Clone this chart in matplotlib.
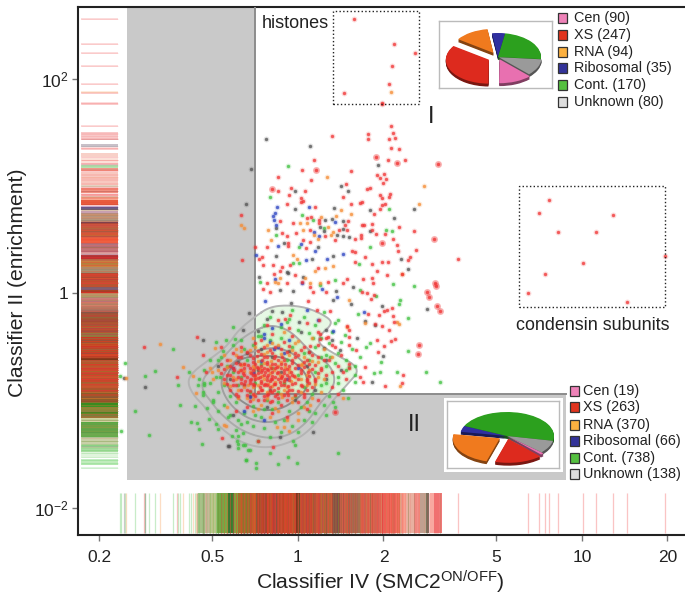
import matplotlib
matplotlib.use('Agg')
import matplotlib.pyplot as plt
from matplotlib.patches import Rectangle
import numpy as np

plt.rcParams.update({
    'font.family': ['Liberation Sans', 'DejaVu Sans'],
    'mathtext.default': 'regular',
    'font.size': 12.5,
    'axes.spines.right': False,
})

# all points as (log10 classifier IV, log10 classifier II)
red_pts = [
    (.297, 1.77), (.326, 1.56), (.334, 1.49), (.248, 1.48), (.121, 1.46), (.246, 1.44), (.321, 1.44), (.342, 1.45),
    (.328, 1.35), (.355, 1.34), (.317, 1.24), (.378, 1.24), (.058, 1.24), (.013, 1.15), (.188, 1.14), (.302, 1.11),
    (.277, 1.10), (-.070, 1.08), (.288, 1.07), (.309, 1.06), (.046, 1.05), (.299, 1.03), (.168, 1.02), (-.071, .95),
    (-.024, .98), (.024, .95), (.243, .97), (.252, .98), (-.030, .91), (.160, .90), (.289, .91), (.297, .89),
    (.323, .92), (.321, .90), (.010, .89), (.012, .85), (.019, .86), (.218, .84), (.226, .85), (-.037, .83),
    (.185, .83), (.295, .82), (.307, .83), (.061, .80), (.267, .74), (.288, .78), (-.201, .73), (-.063, .67),
    (.030, .70), (.045, .71), (.074, .68), (-.016, .65), (.176, .67), (.262, .64), (.226, .63), (.234, .63),
    (.073, .65), (.165, .63), (.356, .62), (.043, .59), (-.058, .56), (-.007, .56), (.096, .53), (.145, .59),
    (.172, .59), (.260, .59), (.273, .55), (.308, .55), (.410, .58), (-.037, .53), (.201, .50), (.221, .54),
    (.223, .51), (.132, .49), (.334, .50), (.348, .45), (.019, .49), (-.036, .47), (-.108, .43), (-.150, .43),
    (-.035, .44), (.029, .42), (.044, .48),
    (-.198, .31), (-.122, .26), (-.089, .26), (-.057, .245), (-.028, .26), (-.127, .34), (-.139, .32), (-.086, .18),
    (-.110, .09), (-.098, .01), (-.122, .04), (-.063, .21), (-.040, .09), (-.010, .17), (.013, .10), (.043, .06),
    (.054, .01), (.037, -.07), (.072, .23), (.107, .10), (.160, .09), (.172, .13), (.099, .01), (.111, -.17),
    (.201, .385), (.189, .395), (.201, .29), (.236, .34), (.260, .27), (.260, .14), (.263, .096), (.228, .13),
    (.277, .21), (.297, .29), (.316, .29), (.351, .394), (.395, .34), (.387, .31), (.366, .18), (.313, .17),
    (.414, .40), (.565, .32), (.256, -.06), (.242, -.003), (.225, .012), (.266, -.02), (.303, -.165), (.313, -.16),
    (.330, -.137), (.287, -.205), (.336, -.215), (.338, -.27), (.245, -.196), (.272, -.29), (.295, -.31), (.321, -.34),
    (.342, -.43), (.327, -.445), (.277, -.44), (.303, -.494), (.283, -.547), (.205, -.53), (.178, -.485), (.172, -.31),
    (.178, -.345), (.178, -.41), (.078, -.38), (.076, -.43), (.107, -.41), (.119, -.485), (.236, -.69), (.370, -.765),
    (.230, -.83), (.307, -.865), (.366, -.84), (.074, -.25), (.068, -.16), (.043, -.49), (-.028, -.205), (-.045, -.24),
    (-.541, -.507), (-.355, -.413), (-.334, -.578), (-.426, -.786), (-.269, -1.349), (-.325, -.733), (-.272, -.507),
    (-.087, -1.433), (-.140, -1.377),
    (.13, -.50), (.10, -.42), (.07, -.36), (.03, -.28), (.11, -.62), (.15, -.58), (.18, -.66), (.12, -.74), (.17, -.80),
    (.14, -.94), (.18, -.70), (.07, -.48), (.22, -.78),
    # histones box
    (.197, 2.555), (.337, 2.32), (.412, 2.24), (.331, 2.117), (.322, 1.946), (.162, 1.865), (.297, 1.765),
    # condensin box
    (.884, .87), (.85, .743), (.917, .572), (1.108, .727), (1.049, .572), (1.291, .348), (1.004, .277),
    (.869, .175), (.811, .003), (1.157, -.087),
]
red_big_pts = [
    (.274, 1.27), (.348, 1.21), (.492, 1.20), (.065, 1.15), (-.090, .97), (.479, .50), (.296, .47), (.130, -1.107),
    (.483, .09), (.485, .065), (.453, .006), (.462, -.04), (.491, -.12), (.500, -.17), (.427, -.485), (.424, -.57),
]
red_core = [
    (-.11, -.78), (-.09, -.74), (-.13, -.82), (-.07, -.80), (-.15, -.76), (-.12, -.70), (-.05, -.72), (-.17, -.84),
    (-.10, -.88), (-.06, -.86), (-.14, -.92), (-.08, -.66), (-.19, -.70), (-.03, -.78), (-.16, -.64), (-.11, -.60),
    (-.21, -.78), (-.01, -.84), (-.04, -.92), (-.18, -.90), (-.12, -.96), (-.07, -.98), (-.23, -.86), (.01, -.72),
    (-.24, -.68), (-.02, -.62), (-.09, -.56), (-.14, -.54), (-.20, -.60), (.03, -.80), (-.13, -.74), (-.10, -.82),
    (-.08, -.78), (-.06, -.70), (-.12, -.86), (-.15, -.80), (-.16, -.72), (-.09, -.92), (-.05, -.82), (-.03, -.68),
    (-.18, -.78), (-.20, -.84), (-.11, -.66), (-.07, -.62), (-.13, -.68), (-.04, -.76), (-.02, -.90), (-.16, -.94),
    (-.10, -1.02), (-.06, -1.04), (-.14, -1.00), (.05, -.88), (.02, -.94), (-.22, -.94), (-.25, -.76), (.04, -.66),
    (-.01, -.56), (-.06, -.52), (-.12, -.50), (-.17, -.58), (-.13, -.44), (-.09, -.38), (-.05, -.46), (-.02, -.40),
    (-.11, -.30), (-.07, -.25), (-.03, -.33), (.02, -.50), (.05, -.58), (.08, -.70), (.10, -.76), (.06, -.82),
    (.12, -.88), (.09, -.62), (.14, -.68), (.16, -.74), (.07, -1.0), (.03, -1.08), (-.04, -1.16), (-.09, -1.12),
    (-.18, -1.06), (-.22, -1.10), (-.105, -.765), (-.125, -.72), (-.095, -.70), (-.145, -.685), (-.075, -.75),
    (-.065, -.83), (-.115, -.845), (-.135, -.78), (-.165, -.80), (-.085, -.85), (-.045, -.66), (-.025, -.735),
    (-.175, -.675), (-.195, -.745), (-.155, -.86), (-.105, -.94), (-.035, -.87), (-.015, -.77), (.0, -.67),
    (-.055, -.60), (-.125, -.62), (-.225, -.72), (-.085, -.61), (-.145, -.59), (.015, -.87), (-.205, -.66),
    (-.095, -.80), (-.115, -.74), (-.075, -.69), (-.055, -.77), (-.135, -.88), (-.105, -.72), (-.165, -.75),
    (-.045, -.80), (-.085, -.90), (-.125, -.90), (-.185, -.82), (-.035, -.95), (-.075, -.94), (.035, -.74),
    (-.20, -.50), (-.15, -.47), (-.08, -.50), (-.03, -.49), (.01, -.53), (-.23, -.56), (-.18, -.55), (-.13, -.57),
    (-.10, -.53), (-.04, -.55), (.0, -.58), (.04, -.55), (-.25, -.62), (-.21, -.60), (-.16, -.61), (-.12, -.60),
    (-.08, -.59), (-.05, -.62), (-.01, -.60), (.03, -.62), (.07, -.60), (-.27, -.66), (-.22, -.65), (-.19, -.66),
    (-.15, -.66), (-.11, -.64), (-.09, -.66), (-.06, -.66), (-.02, -.65), (.02, -.64), (.06, -.67), (-.26, -.71),
    (-.23, -.70), (-.20, -.72), (-.17, -.70), (-.14, -.70), (-.11, -.71), (-.08, -.70), (-.04, -.71), (-.01, -.70),
    (.02, -.69), (.05, -.71), (.08, -.72), (-.27, -.75), (-.24, -.76), (-.21, -.74), (-.19, -.76), (-.16, -.76),
    (-.14, -.75), (-.12, -.76), (-.09, -.77), (-.07, -.74), (-.05, -.75), (-.02, -.76), (.01, -.75), (.04, -.77),
    (.07, -.75), (-.26, -.80), (-.23, -.81), (-.20, -.80), (-.17, -.81), (-.14, -.79), (-.11, -.81), (-.09, -.80),
    (-.06, -.79), (-.03, -.81), (.0, -.80), (.03, -.82), (.06, -.80), (-.25, -.85), (-.22, -.86), (-.19, -.85),
    (-.16, -.85), (-.13, -.84), (-.11, -.86), (-.08, -.85), (-.05, -.86), (-.02, -.85), (.01, -.86), (.04, -.84),
    (-.24, -.90), (-.20, -.90), (-.17, -.91), (-.13, -.90), (-.10, -.91), (-.07, -.89), (-.03, -.90), (.0, -.91),
    (.03, -.90), (-.21, -.96), (-.18, -.95), (-.15, -.96), (-.11, -.95), (-.08, -.96), (-.05, -.95), (-.01, -.95),
    (.02, -.97), (-.17, -1.01), (-.12, -1.0), (-.09, -1.01), (-.04, -1.0), (.0, -1.02),
]
orange_pts = [
    (.101, 1.08), (.445, 1.0), (.427, .83), (.152, .77), (.185, .74), (-.200, .63), (-.191, .61), (-.105, .59),
    (.080, .71), (.134, .72), (.030, .65), (.006, .65), (.018, .59), (-.095, .49), (.057, .54), (.072, .50),
    (.115, .54), (.125, .57), (.104, .62), (-.069, .09), (-.081, .105), (-.063, .14), (-.004, .32), (-.016, .354),
    (.060, .21), (.096, .23), (.125, .25), (.043, .09), (.181, -.065), (.348, -.27), (.357, -.29), (.236, -.28),
    (.366, .18), (.172, -.32), (.360, -.87), (.078, .09), (.025, .14), (.327, 1.87),
    (-.486, -.476), (-.604, -.796), (-.404, -.687), (-.369, -.774), (-.359, -.929), (-.292, -.516), (-.304, -.733),
    (-.251, -1.06), (-.261, -1.23), (-.254, -1.237), (.159, -.982), (.042, -1.044), (.02, -1.06), (.0, -1.184),
    (-.04, -1.184), (-.05, -1.245), (-.03, -1.29), (-.075, -1.245),
]
orange_core = [
    (-.19, -.66), (-.14, -.63), (-.10, -.68), (-.06, -.64), (-.22, -.80), (-.17, -.74), (-.12, -.80), (-.08, -.83),
    (-.03, -.74), (.01, -.80), (-.21, -.90), (-.16, -.88), (-.11, -.92), (-.05, -.90), (.03, -.86), (-.24, -.62),
    (-.20, -.54), (-.15, -.50), (-.07, -.48), (-.03, -.58), (.04, -.72), (.07, -.78), (-.26, -.84), (-.28, -.72),
    (-.18, -.98), (-.13, -1.04), (-.08, -1.07), (-.02, -1.02), (.05, -.98), (-.16, -1.10), (-.10, -1.16), (.0, -1.12),
    (-.12, -.57), (-.09, -.47), (-.16, -.42), (-.05, -.36), (.0, -.45), (.05, -.42), (.09, -.52), (.12, -.60),
    (-.135, -.71), (-.105, -.85), (-.065, -.76), (-.045, -.69), (-.155, -.70), (-.085, -.72), (-.175, -.86),
    (-.125, -.77), (-.025, -.82), (-.205, -.72), (-.155, -.95), (-.055, -.97), (.015, -.66), (-.095, -.63),
    (-.22, -.58), (-.17, -.53), (-.11, -.55), (-.06, -.57), (-.02, -.53), (.02, -.60), (-.25, -.69), (-.20, -.67),
    (-.16, -.68), (-.12, -.65), (-.07, -.68), (-.03, -.71), (.01, -.67), (.05, -.63), (-.23, -.78), (-.19, -.73),
    (-.15, -.78), (-.10, -.75), (-.06, -.78), (-.01, -.78), (.03, -.76), (.06, -.85), (-.24, -.87), (-.19, -.88),
    (-.14, -.86), (-.09, -.87), (-.04, -.88), (.01, -.92), (-.21, -.98), (-.16, -.99), (-.11, -.98), (-.06, -.94),
    (-.02, -.98), (-.14, -1.08), (-.07, -1.10), (-.26, -.58), (-.22, -.52), (-.11, -.48), (-.01, -.47), (.07, -.64),
    (.09, -.80), (.08, -.92), (-.3, -.80), (-.31, -.70),
]
green_pts = [
    (-.035, 1.18), (-.098, .90), (.013, .73), (.052, .68), (.092, .61), (.319, .78), (.310, .59), (.331, .58),
    (-.077, .54), (.254, .43), (.005, .43), (.216, .27), (.002, .28), (-.018, .28), (-.133, .10), (.131, .12),
    (.333, .084), (.409, .068), (.360, -.065), (.354, -.10), (.213, -.196), (.387, -.236), (.274, -.028), (.142, -.25),
    (.164, -.39), (.254, -.47), (.240, -.507), (.387, -.54), (.293, -.647), (.289, -.734), (.266, -.743), (.348, -.734),
    (.450, -.734), (.500, -.827), (-.230, -.32), (.219, .028), (.078, .075), (-.040, -.27), (.054, -.42), (.178, -.687),
    (.201, -.765),  (.113, -.594),
    (-.609, -.65), (-.439, -.522), (-.505, -.724), (-.537, -.774), (-.627, -.774), (-.424, -.861), (-.383, -.74),
    (-.348, -.805), (-.330, -.718), (-.351, -.858), (-.330, -.842), (-.334, -.92), (-.336, -.951), (-.310, -.842),
    (-.416, -1.041), (-.361, -1.054), (-.574, -1.103), (-.322, -1.075), (-.312, -1.178), (-.375, -1.206),
    (-.355, -1.215), (-.350, -1.271), (-.623, -1.284), (-.525, -1.324), (-.339, -1.405), (-.287, -1.22), (-.283, -1.271),
    (-.234, -1.333), (-.210, -1.333), (-.214, -1.377), (-.187, -1.417), (-.210, -1.448), (-.175, -1.464), (-.183, -1.557),
    (-.298, -.998), (-.275, -.78), (-.287, -.454), (-.254, -.438), (-.222, -.432), (-.281, -.625), (-.263, -.538),
    (-.193, -1.308), (-.246, -1.159), (-.199, -1.222), (-.099, -1.495), (-.034, -1.526), (-.005, -1.588), (-.070, -1.594),
    (-.148, -1.588), (-.148, -1.635), (-.183, -1.557), (.142, -1.495), (-.169, -1.464), (-.193, -1.417), (-.210, -1.408),
    (-.011, -1.417), (-.017, -1.377), (.177, -.982), (.124, -1.02),
    (-.14, -.40), (-.12, -.30), (-.10, -.22), (-.06, -.32), (-.03, -.24), (.0, -.34), (.04, -.37), (.08, -.42),
    (.11, -.47), (.14, -.56), (.17, -.72), (.14, -.78), (.10, -.84), (.16, -.90), (.20, -.83), (.13, -.65), (.10, -.58),
]
green_core = [
    (-.27, -.60), (-.25, -.68), (-.29, -.78), (-.26, -.86), (-.28, -.92), (-.24, -.96), (-.22, -1.02), (-.19, -.52),
    (-.23, -.48), (-.20, -.44), (-.16, -.48), (-.13, -.40), (-.10, -.44), (-.06, -.42), (-.02, -.50), (.02, -.56),
    (.06, -.50), (.08, -.60), (.10, -.68), (.06, -.74), (.08, -.86), (.05, -.94), (.03, -1.02), (.01, -1.06),
    (-.03, -1.10), (-.07, -1.02), (-.12, -1.08), (-.15, -1.14), (-.19, -1.12), (-.24, -1.14), (-.26, -1.04),
    (-.08, -1.20), (-.12, -1.26), (-.02, -1.24), (.02, -1.18), (.06, -1.12), (-.16, -1.24), (-.06, -1.30),
    (-.10, -1.34), (-.14, -1.38), (.09, -1.04), (.11, -.96), (.14, -.84), (.17, -.62), (.19, -.52), (.15, -.46),
    (.12, -.36), (.06, -.30), (.02, -.22), (-.02, -.16), (.09, -.18), (.13, -.28), (.20, -.68), (.22, -.60),
    (-.20, -.78), (-.17, -.92), (-.13, -.66), (-.05, -.84), (-.09, -.70), (-.15, -.84), (-.23, -.74), (-.18, -.62),
    (-.04, -.62), (.0, -.76), (-.11, -1.0), (-.21, -.86), (-.07, -.92), (.02, -.88), (-.01, -.96), (.04, -.62),
    (-.31, -.62), (-.33, -.86), (-.30, -1.02), (-.28, -1.10), (-.21, -1.18), (-.18, -1.20), (-.05, -1.18), (.0, -1.30),
    (.05, -1.20), (.10, -1.14), (.13, -1.06), (-.22, -1.28), (-.13, -1.16), (-.09, -1.08), (-.16, -1.05), (.04, -1.10),
]
grey_pts = [
    (-.113, 1.44), (.042, 1.37), (.282, 1.19), (-.164, 1.16), (-.011, .95), (.151, 1.00), (.176, .95), (-.183, .83),
    (-.012, .78), (.128, .79), (.254, .77), (.407, .78), (.339, .70), (-.078, .61), (.094, .68), (.120, .69),
    (.158, .67), (.160, .60), (.076, .62), (.093, .58), (.158, .53), (.138, .54), (.180, .52), (.253, .58),
    (-.051, .47), (.072, .43), (-.078, .35), (.125, .345), (.049, .32), (-.039, .20), (.019, .15), (-.063, .03),
    (-.016, .02), (.134, .02), (.193, .06), (-.024, -.09), (.125, -.065), (.186, -.10), (.297, -.12), (.362, .32),
    (.387, .22), (.454, -.15), (-.057, -.18), (-.110, -.24), (.002, -.27), (.099, -.34), (.148, -.53), (.207, -.42),
    (.236, -.26), (.272, -.30), (.300, -.59), (.260, -.83), (.090, -.51), (-.136, .146), (-.172, -.19), (-.192, -.345),
    (-.034, .19), (-.336, -.438), (-.539, -.873), (-.613, -.796), (-.243, -1.43), (-.281, -.68), (-.228, -1.137),
    (-.064, -1.34), (.054, -1.293), (-.246, -1.427),
    (-.18, -.56), (-.13, -.52), (-.21, -.64), (-.24, -.80), (-.09, -.60), (-.03, -.54), (.03, -.68), (.06, -.90),
    (-.17, -.96), (-.11, -1.06), (-.01, -1.00), (-.14, -.72), (-.06, -.74), (-.10, -.90), (-.19, -.86), (.10, -.62),
    (.01, -.36), (-.09, -.17), (.12, -.44), (.15, -.72), (.10, -.80), (.04, -.55), (-.14, -.35),
]
blue_pts = [
    (-.075, .80), (-.082, .75), (-.089, .72), (-.084, .68), (-.077, .63), (.039, .80), (.131, .66), (.058, .57),
    (.074, .53), (-.069, .44), (.010, .46), (-.147, .354), (.029, .31), (.101, .32), (.160, .36), (.060, .394),
    (-.116, -.075), (.084, .034), (.137, -.04), (.233, -.18), (.031, -.16), (.072, -.25), (.125, -.35), (-.081, .127),
    (.013, .09), (-.10, -.46), (-.07, -.50), (-.12, -.42), (-.13, -.63), (-.05, -.56), (-.23, -.70), (-.04, -.80),
    (-.17, -.97), (-.12, -1.18), (-.19, -1.10), (.0, -.70), (-.085, -.52), (-.09, -.33), (-.06, -.29), (-.12, -.38),
    (-.03, -.44), (-.16, -.75),
]

# rug stripes where the lines merge: top, bottom in log10 classifier II
left_tops = [1.50, 1.39, 1.31, 1.26, 1.19, 1.17, 1.13, .98, .90, .87, .80, .765, .746, .662, .643, .569, .522, .466,
             .382, .354, .317, .242, .186, .056, .028, 0, -.047, -.084, -.13, -.177, -.233, -.298, -.373, -.41, -.597,
             -.625, -.72, -.82, -.932, -1.026, -1.063, -1.11, -1.128, -1.166, -1.203, -1.305, -1.343, -1.417, -1.483,
             -1.557]
left_bots = [1.43, 1.36, 1.27, 1.21, 1.17, 1.14, 1.01, .93, .87, .82, .77, .746, .662, .643, .569, .522, .466, .382,
             .354, .317, .242, .186, .056, .028, 0, -.047, -.084, -.13, -.177, -.233, -.298, -.373, -.41, -.597, -.625,
             -.72, -.82, -.932, -1.026, -1.063, -1.11, -1.128, -1.166, -1.203, -1.305, -1.343, -1.417, -1.483, -1.538,
             -1.604]
left_cols = ['#F8C8C8', '#C8C0C8', '#F8D0C8', '#FCE0D8', '#B8E0B0', '#F09888', '#F8C8C0', '#F09080', '#F8A890',
             '#E86040', '#706088', '#C8A0B0', '#C0A080', '#8A4040', '#C85840', '#D06038', '#F06040', '#C07878',
             '#D8A0A0', '#C03030', '#C88040', '#A89070', '#C84830', '#806070', '#C03820', '#B89868', '#C88078',
             '#D08068', '#B87860', '#A85038', '#B04830', '#C04C30', '#A07040', '#C23E22', '#7A3A18', '#A85428',
             '#B2562A', '#A65A2C', '#7F5A28', '#3A8A20', '#8A8438', '#3A8A20', '#9A7038', '#D0D0A0', '#6AA04A',
             '#70A850', '#C8D0A8', '#A8DCA0', '#E0F4DC', '#C0ECBC']

# same for the bottom rug, left and right edges in log10 classifier IV
bot_lefts = [-.352, -.331, -.310, -.286, -.246, -.225, -.211, -.169, -.148, -.106, -.049, -.007, .007, .063, .120,
             .148, .176, .218, .268, .289, .359, .380, .408, .430, .451, .465, .479]
bot_rights = [-.331, -.310, -.286, -.246, -.225, -.211, -.169, -.148, -.106, -.049, -.007, .007, .063, .120, .148,
              .176, .218, .268, .289, .359, .380, .408, .430, .451, .461, .479, .507]
bot_cols = ['#A8C088', '#C8B898', '#B8C890', '#78A848', '#3A7A30', '#88A040', '#A07028', '#C06028', '#A84C28',
            '#B84A26', '#C84C28', '#803020', '#C04C30', '#C85838', '#905040', '#D06048', '#B06850', '#D86A50',
            '#E06858', '#F07060', '#F8A090', '#E8B0A0', '#F09088', '#C0A090', '#807060', '#F8A8A0', '#F07878']

# density contours
contour_outer_x = [-.152, -.099, -.028, .042, .112, .118, .077, .071, .124, .224, .171, .124, .089, .054, -.005,
                   -.099, -.181, -.251, -.298, -.328, -.369, -.390, -.369, -.322, -.251, -.210]
contour_outer_y = [-.221, -.127, -.112, -.143, -.236, -.298, -.392, -.469, -.562, -.702, -.858, -.998, -1.122,
                   -1.246, -1.371, -1.448, -1.417, -1.308, -1.184, -1.060, -.951, -.827, -.733, -.640, -.500, -.345]
contour_mid_x = [-.152, -.099, -.046, -.005, .042, .101, .130, .124, .077, .030, -.040, -.122, -.205, -.275, -.310,
                 -.339, -.333, -.287, -.251, -.205]
contour_mid_y = [-.345, -.298, -.329, -.407, -.547, -.640, -.764, -.889, -1.029, -1.215, -1.340, -1.355, -1.277,
                 -1.122, -.998, -.904, -.780, -.671, -.562, -.438]
contour_in_x = [-.169, -.075, -.005, .042, .065, .054, .001, -.087, -.169, -.234, -.269, -.269, -.228]
contour_in_y = [-.547, -.500, -.578, -.718, -.811, -.951, -1.106, -1.215, -1.184, -1.060, -.904, -.780, -.640]
contour_core_x = [-.205, -.122, -.028, .030, .036, .001, -.064, -.146, -.216, -.257, -.240]
contour_core_y = [-.609, -.578, -.609, -.749, -.873, -.982, -1.091, -1.091, -.982, -.842, -.702]

# pies and their legends
pie_names = ['Cen', 'XS', 'RNA', 'Ribosomal', 'Cont.', 'Unknown']
pie1_counts = [90, 247, 94, 35, 170, 80]
pie2_counts = [19, 263, 370, 66, 738, 138]
legend_cols = ['#EE82B8', '#E0341E', '#FBB040', '#333399', '#55C040', '#DDDDDD']
pie_cols = ['#E870B0', '#DD2A1E', '#F07A1E', '#3030A0', '#2CA01E', '#9A9A9A']

x_ticks = [0.2, 0.5, 1, 2, 5, 10, 20]
x_ticklabels = ['0.2', '0.5', '1', '2', '5', '10', '20']
y_ticks = [1e2, 1, 1e-2]
y_ticklabels = ['10$^{2}$', '1', '10$^{-2}$']

W, H = 685, 598
fig = plt.figure(figsize=(W / 100, H / 100), dpi=100)
ax = fig.add_axes([78 / W, (H - 535) / H, (W - 78) / W, 528 / H])
ax.set_xscale('log')
ax.set_yscale('log')
ax.set_xlim(10 ** -.7746, 10 ** 1.3627)
ax.set_ylim(10 ** -2.256, 10 ** 2.667)
ax.minorticks_off()
ax.set_xticks(x_ticks)
ax.set_xticklabels(x_ticklabels)
ax.set_yticks(y_ticks)
ax.set_yticklabels(y_ticklabels)
ax.tick_params(axis='both', length=4, width=1, color='#777777', pad=7, labelcolor='#222222')
ax.tick_params(axis='y', pad=3)
ax.minorticks_off()
for s in ['left', 'top', 'bottom']:
    ax.spines[s].set_linewidth(1.5)
    ax.spines[s].set_color('#222222')


def smooth(xs, ys, n=3):
    # corner cutting so the contours come out round
    p = np.column_stack([xs, ys])
    for _ in range(n):
        q = np.roll(p, -1, axis=0)
        p = np.column_stack([.75 * p + .25 * q, .25 * p + .75 * q]).reshape(-1, 2)
    p = np.vstack([p, p[0]])
    return 10 ** p[:, 0], 10 ** p[:, 1]


# green density, the grey L covers the part outside the white area
cx, cy = smooth(contour_outer_x, contour_outer_y)
ax.fill(cx, cy, color='#E6F8E4', zorder=1, lw=0)
cx, cy = smooth(contour_mid_x, contour_mid_y)
ax.fill(cx, cy, color='#D4F4D0', zorder=1, lw=0)

# grey L region
lx_edge, lx_left, lx_right = 10 ** -.151, 10 ** -.602, 10 ** .944
ly_edge, ly_low, ly_top = 10 ** -.942, 10 ** -1.744, 10 ** 2.667
ax.fill([lx_left, lx_edge, lx_edge, lx_right, lx_right, lx_left],
        [ly_top, ly_top, ly_edge, ly_edge, ly_low, ly_low], color='#C9C9C9', lw=0, zorder=2)
ax.plot([lx_edge, lx_edge, lx_right], [ly_top, ly_edge, ly_edge], color='#8C8C8C', lw=1.4, zorder=3)

for xs, ys, c, lw in [(contour_outer_x, contour_outer_y, '#B4B4B4', 1.4),
                      (contour_mid_x, contour_mid_y, '#ABABAB', 1.4),
                      (contour_in_x, contour_in_y, '#A0A0A0', 1.4),
                      (contour_core_x, contour_core_y, '#8E8E8E', 1.4)]:
    cx, cy = smooth(xs, ys)
    ax.plot(cx, cy, color=c, lw=lw, zorder=3)

# rugs, the merged stripes go over the pale single lines, then a second pass for the fine streaks
rug_x0, rug_x1 = 10 ** -.765, 10 ** -.634
rug_y0, rug_y1 = 10 ** -2.238, 10 ** -1.865
for top, bot, c in zip(left_tops, left_bots, left_cols):
    ax.fill_between([rug_x0, rug_x1], 10 ** bot, 10 ** top, color=c, lw=0, zorder=1.6)
for l, r, c in zip(bot_lefts, bot_rights, bot_cols):
    ax.fill_between([10 ** l, 10 ** r], rug_y0, rug_y1, color=c, lw=0, zorder=1.6)

series = [
    (green_pts + green_core, '#3CC03C'),
    (grey_pts, '#505050'),
    (blue_pts, '#2840C0'),
    (orange_pts + orange_core, '#F58A30'),
    (red_pts + red_big_pts + red_core, '#F03030'),
]
for pts, c in series:
    a = np.array(pts)
    ax.hlines(10 ** a[:, 1], rug_x0, rug_x1, color=c, lw=1.2, alpha=.2, zorder=1.5)
    ax.vlines(10 ** a[:, 0], rug_y0, rug_y1, color=c, lw=1.0, alpha=.2, zorder=1.5)
    ax.hlines(10 ** a[:, 1], rug_x0, rug_x1, color=c, lw=.6, alpha=.12, zorder=1.7)
    ax.vlines(10 ** a[:, 0], rug_y0, rug_y1, color=c, lw=.6, alpha=.12, zorder=1.7)

for pts, c in series:
    a = np.array(pts)
    ax.scatter(10 ** a[:, 0], 10 ** a[:, 1], s=18, color=c, alpha=.16, lw=0, zorder=4)
    ax.scatter(10 ** a[:, 0], 10 ** a[:, 1], s=6, color=c, alpha=.75, lw=0, zorder=4)
a = np.array(red_big_pts)
ax.scatter(10 ** a[:, 0], 10 ** a[:, 1], s=26, color='#F03030', alpha=.3, lw=0, zorder=4)

# dotted boxes
ax.add_patch(Rectangle((10 ** .123, 10 ** 1.762), 10 ** .426 - 10 ** .123, 10 ** 2.63 - 10 ** 1.762,
                       fill=False, ls=':', lw=1, ec='#222222', zorder=5))
ax.add_patch(Rectangle((10 ** .778, 10 ** -.13), 10 ** 1.292 - 10 ** .778, 10 ** .998 - 10 ** -.13,
                       fill=False, ls=':', lw=1, ec='#222222', zorder=5))

# overlay in picture pixels for the annotation layout
ov = fig.add_axes([0, 0, 1, 1], zorder=5)
ov.set_xlim(0, W)
ov.set_ylim(H, 0)
ov.axis('off')
ov.text(262, 23, 'histones', fontsize=13, va='center', color='#222222')
ov.text(516, 325, 'condensin subunits', fontsize=12.9, va='center', color='#222222')
ov.text(431, 117, 'I', fontsize=17, ha='center', va='center', color='#222222')
ov.text(414, 425, 'II', fontsize=17, ha='center', va='center', color='#222222')
ov.text(380, 582, 'Classifier IV (SMC2$^{ON/OFF}$)', fontsize=15.2, ha='center', va='center', color='#222222')
ov.text(18, 283, 'Classifier II (enrichment)', fontsize=15.2, rotation=90, ha='center', va='center', color='#222222')
ov.add_patch(Rectangle((444, 398), 119, 74, fc='white', ec='none'))

for counts, x_box, y_rows, x_txt, s in [(pie1_counts, 558, [18, 35, 52, 68, 85, 102], 574, 9.5),
                                        (pie2_counts, 570, [391, 407, 425, 441, 458, 474], 583, 9.5)]:
    for name, n, c, y in zip(pie_names, counts, legend_cols, y_rows):
        ov.add_patch(Rectangle((x_box, y - s / 2), s, s, fc=c, ec='#333333', lw=0.9))
        ov.text(x_txt, y, f'{name} ({n})', fontsize=10.4, va='center', color='#222222')


def draw_pie(box, center, rx, ry, counts, start, explode):
    x0, y0, x1, y1 = box
    pa = fig.add_axes([x0 / W, (H - y1) / H, (x1 - x0) / W, (y1 - y0) / H], zorder=6)
    order = [3, 4, 5, 0, 1, 2]
    vals = [counts[i] for i in order]
    cols = np.array([matplotlib.colors.to_rgb(pie_cols[i]) for i in order])
    exps = [explode[i] for i in order]
    for d in [.12, .09, .06, .03]:
        pa.pie(vals, colors=cols * .55, explode=exps, startangle=start, counterclock=False, center=(0, -d))
    pa.pie(vals, colors=cols, explode=exps, startangle=start, counterclock=False)
    pa.set_aspect('auto')
    pa.set_xlim((x0 - center[0]) / rx, (x1 - center[0]) / rx)
    pa.set_ylim((center[1] - y1) / ry, (center[1] - y0) / ry)
    pa.set_xticks([])
    pa.set_yticks([])
    pa.set_frame_on(True)
    pa.set_facecolor('white')
    for sp in pa.spines.values():
        sp.set_visible(True)
        sp.set_color('#BBBBBB')
        sp.set_linewidth(1)


draw_pie((439, 21, 552, 88), (498, 57), 43, 24, pie1_counts, 98, [.1, .24, .2, 0, 0, .02])
draw_pie((447, 401, 559, 468), (507, 436), 47, 24, pie2_counts, 170, [.06, .12, .18, 0, 0, 0])

fig.savefig('out.png', dpi=100)
plt.close()
